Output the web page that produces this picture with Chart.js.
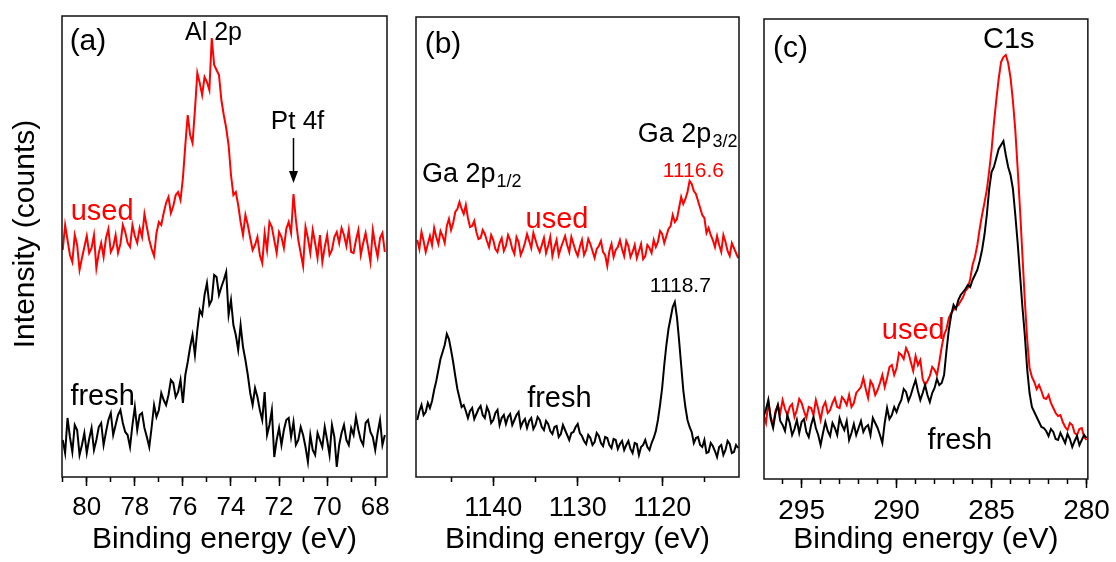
<!DOCTYPE html>
<html>
<head>
<meta charset="utf-8">
<script src="https://cdn.jsdelivr.net/npm/chart.js@4.4.1/dist/chart.umd.min.js"></script>
<style>
  html, body { margin: 0; padding: 0; background: #fff; }
  #wrap { position: relative; width: 1116px; height: 562px; overflow: hidden; }
  canvas { position: absolute; top: 0; }
</style>
</head>
<body>
<div id="wrap">
  <canvas id="chartA" width="407" height="562" style="left:0px;width:407px;height:562px"></canvas>
  <canvas id="chartB" width="359" height="562" style="left:400px;width:359px;height:562px"></canvas>
  <canvas id="chartC" width="366" height="562" style="left:750px;width:366px;height:562px"></canvas>
</div>
<script>
// (a) Al 2p region
const energyA = [81.0, 80.9, 80.8, 80.7, 80.6, 80.5, 80.4, 80.3, 80.2, 80.1,
  80.0, 79.9, 79.8, 79.7, 79.6, 79.5, 79.4, 79.3, 79.2, 79.1,
  79.0, 78.9, 78.8, 78.7, 78.6, 78.5, 78.4, 78.3, 78.2, 78.1,
  78.0, 77.9, 77.8, 77.7, 77.6, 77.5, 77.4, 77.3, 77.2, 77.1,
  77.0, 76.9, 76.8, 76.7, 76.6, 76.5, 76.4, 76.3, 76.2, 76.1,
  76.0, 75.9, 75.8, 75.7, 75.6, 75.5, 75.4, 75.3, 75.2, 75.1,
  75.0, 74.9, 74.8, 74.7, 74.6, 74.5, 74.4, 74.3, 74.2, 74.1,
  74.0, 73.9, 73.8, 73.7, 73.6, 73.5, 73.4, 73.3, 73.2, 73.1,
  73.0, 72.9, 72.8, 72.7, 72.6, 72.5, 72.4, 72.3, 72.2, 72.1,
  72.0, 71.9, 71.8, 71.7, 71.6, 71.5, 71.4, 71.3, 71.2, 71.1,
  71.0, 70.9, 70.8, 70.7, 70.6, 70.5, 70.4, 70.3, 70.2, 70.1,
  70.0, 69.9, 69.8, 69.7, 69.6, 69.5, 69.4, 69.3, 69.2, 69.1,
  69.0, 68.9, 68.8, 68.7, 68.6, 68.5, 68.4, 68.3, 68.2, 68.1,
  68.0, 67.9, 67.8, 67.7, 67.6];
const usedA = [225, 250, 235, 220, 213, 240, 230, 205, 217, 228,
  239, 222, 227, 240, 207, 222, 232, 218, 237, 246,
  223, 228, 240, 222, 231, 250, 243, 232, 228, 250,
  239, 232, 247, 238, 261, 248, 235, 226, 219, 242,
  253, 250, 262, 272, 278, 262, 269, 280, 283, 275,
  297, 330, 360, 340, 332, 365, 402, 392, 380, 398,
  393, 385, 437, 410, 405, 400, 375, 360, 347, 330,
  300, 280, 283, 270, 253, 240, 260, 250, 237, 225,
  230, 238, 220, 212, 242, 225, 253, 248, 235, 222,
  243, 238, 227, 246, 253, 242, 281, 255, 235, 222,
  209, 248, 237, 222, 245, 232, 217, 240, 213, 228,
  240, 220, 225, 238, 243, 232, 247, 240, 229, 245,
  223, 222, 235, 245, 220, 232, 242, 228, 213, 245,
  230, 218, 237, 242, 223];
const freshA = [35, 22, 57, 38, 23, 50, 45, 20, 30, 42,
  22, 36, 47, 25, 35, 48, 52, 30, 43, 55,
  62, 40, 50, 60, 65, 52, 43, 40, 28, 50,
  68, 45, 60, 62, 47, 38, 28, 48, 70, 58,
  65, 82, 75, 70, 80, 95, 92, 78, 83, 95,
  72, 100, 113, 128, 140, 120, 145, 165, 160, 180,
  192, 170, 175, 200, 198, 180, 188, 195, 203, 160,
  175, 150, 140, 125, 150, 128, 115, 100, 82, 70,
  87, 78, 65, 55, 83, 40, 50, 65, 18, 35,
  47, 30, 45, 55, 57, 38, 53, 30, 35, 48,
  40, 28, 13, 40, 25, 20, 42, 35, 28, 48,
  35, 20, 50, 38, 8, 30, 42, 50, 35, 30,
  47, 40, 58, 45, 35, 30, 52, 55, 43, 38,
  25, 42, 55, 30, 40];

// (b) Ga 2p region
const energyB = [1149, 1148.75, 1148.5, 1148.25, 1148, 1147.75, 1147.5, 1147.25, 1147, 1146.75,
  1146.5, 1146.25, 1146, 1145.75, 1145.5, 1145.25, 1145, 1144.75, 1144.5, 1144.25,
  1144, 1143.75, 1143.5, 1143.25, 1143, 1142.75, 1142.5, 1142.25, 1142, 1141.75,
  1141.5, 1141.25, 1141, 1140.75, 1140.5, 1140.25, 1140, 1139.75, 1139.5, 1139.25,
  1139, 1138.75, 1138.5, 1138.25, 1138, 1137.75, 1137.5, 1137.25, 1137, 1136.75,
  1136.5, 1136.25, 1136, 1135.75, 1135.5, 1135.25, 1135, 1134.75, 1134.5, 1134.25,
  1134, 1133.75, 1133.5, 1133.25, 1133, 1132.75, 1132.5, 1132.25, 1132, 1131.75,
  1131.5, 1131.25, 1131, 1130.75, 1130.5, 1130.25, 1130, 1129.75, 1129.5, 1129.25,
  1129, 1128.75, 1128.5, 1128.25, 1128, 1127.75, 1127.5, 1127.25, 1127, 1126.75,
  1126.5, 1126.25, 1126, 1125.75, 1125.5, 1125.25, 1125, 1124.75, 1124.5, 1124.25,
  1124, 1123.75, 1123.5, 1123.25, 1123, 1122.75, 1122.5, 1122.25, 1122, 1121.75,
  1121.5, 1121.25, 1121, 1120.75, 1120.5, 1120.25, 1120, 1119.75, 1119.5, 1119.25,
  1119, 1118.75, 1118.5, 1118.25, 1118, 1117.75, 1117.5, 1117.25, 1117, 1116.75,
  1116.5, 1116.25, 1116, 1115.75, 1115.5, 1115.25, 1115, 1114.75, 1114.5, 1114.25,
  1114, 1113.75, 1113.5, 1113.25, 1113, 1112.75, 1112.5, 1112.25, 1112, 1111.75,
  1111.5, 1111.25, 1111];
const usedB = [237, 228, 245, 236, 225, 233, 241, 232, 249, 240,
  233, 246, 241, 234, 251, 258, 247, 254, 265, 268,
  275, 268, 263, 272, 259, 250, 251, 256, 245, 238,
  239, 247, 243, 236, 230, 242, 237, 228, 225, 234,
  239, 226, 231, 242, 237, 228, 223, 240, 235, 222,
  227, 234, 243, 236, 229, 244, 237, 230, 225, 232,
  239, 224, 231, 240, 221, 230, 237, 222, 229, 235,
  241, 232, 225, 240, 233, 226, 221, 230, 237, 222,
  227, 238, 233, 226, 219, 228, 231, 236, 225, 222,
  211, 226, 233, 220, 227, 230, 237, 228, 221, 236,
  231, 220, 225, 232, 219, 226, 233, 218, 221, 232,
  229, 224, 237, 230, 235, 246, 243, 234, 241, 248,
  251, 262, 255, 258, 269, 280, 273, 278, 285, 296,
  293, 286, 283, 276, 269, 262, 259, 244, 249, 242,
  237, 230, 241, 232, 225, 242, 235, 226, 221, 234,
  229, 224, 219];
const freshB = [57, 66, 72, 62, 65, 74, 69, 76, 87, 96,
  107, 118, 125, 132, 143, 138, 127, 115, 101, 88,
  79, 70, 72, 66, 59, 66, 69, 58, 63, 68,
  71, 62, 59, 70, 65, 54, 57, 64, 67, 52,
  59, 62, 53, 60, 63, 52, 57, 62, 65, 50,
  55, 58, 49, 56, 59, 48, 52, 60, 57, 50,
  47, 56, 53, 46, 43, 50, 51, 40, 43, 52,
  47, 42, 37, 44, 45, 50, 53, 44, 41, 36,
  33, 42, 39, 32, 35, 44, 41, 34, 31, 40,
  39, 32, 29, 38, 37, 28, 33, 36, 27, 32,
  36, 28, 24, 34, 33, 22, 30, 32, 37, 30,
  27, 34, 39, 46, 57, 72, 89, 112, 132, 148,
  159, 170, 175, 160, 137, 112, 87, 70, 57, 50,
  45, 34, 39, 40, 32, 30, 37, 24, 25, 34,
  31, 26, 20, 30, 32, 22, 27, 36, 33, 24,
  25, 32, 29];

// (c) C 1s region
const energyC = [297, 296.875, 296.75, 296.625, 296.5, 296.375, 296.25, 296.125,
  296, 295.875, 295.75, 295.625, 295.5, 295.375, 295.25, 295.125,
  295, 294.875, 294.75, 294.625, 294.5, 294.375, 294.25, 294.125,
  294, 293.875, 293.75, 293.625, 293.5, 293.375, 293.25, 293.125,
  293, 292.875, 292.75, 292.625, 292.5, 292.375, 292.25, 292.125,
  292, 291.875, 291.75, 291.625, 291.5, 291.375, 291.25, 291.125,
  291, 290.875, 290.75, 290.625, 290.5, 290.375, 290.25, 290.125,
  290, 289.875, 289.75, 289.625, 289.5, 289.375, 289.25, 289.125,
  289, 288.875, 288.75, 288.625, 288.5, 288.375, 288.25, 288.125,
  288, 287.875, 287.75, 287.625, 287.5, 287.375, 287.25, 287.125,
  287, 286.875, 286.75, 286.625, 286.5, 286.375, 286.25, 286.125,
  286, 285.875, 285.75, 285.625, 285.5, 285.375, 285.25, 285.125,
  285, 284.875, 284.75, 284.625, 284.5, 284.375, 284.25, 284.125,
  284, 283.875, 283.75, 283.625, 283.5, 283.375, 283.25, 283.125,
  283, 282.875, 282.75, 282.625, 282.5, 282.375, 282.25, 282.125,
  282, 281.875, 281.75, 281.625, 281.5, 281.375, 281.25, 281.125,
  281, 280.875, 280.75, 280.625, 280.5, 280.375, 280.25, 280.125,
  280];
const usedC = [64, 56, 77, 62, 54, 68, 74, 66, 79, 70,
  64, 72, 75, 62, 69, 80, 76, 68, 61, 72,
  71, 64, 79, 70, 59, 72, 77, 66, 69, 76,
  81, 72, 71, 82, 79, 74, 84, 72, 76, 86,
  89, 92, 101, 90, 81, 98, 94, 84, 89, 96,
  104, 92, 101, 112, 114, 104, 111, 126, 124, 120,
  131, 126, 117, 108, 123, 114, 119, 100, 94, 98,
  103, 112, 109, 104, 117, 132, 144, 150, 161, 166,
  169, 172, 174, 178, 182, 188, 191, 200, 214, 222,
  234, 250, 264, 276, 289, 308, 329, 356, 379, 400,
  417, 422, 424, 416, 401, 378, 349, 310, 269, 224,
  179, 140, 111, 102, 97, 90, 94, 88, 81, 80,
  84, 76, 71, 66, 63, 64, 57, 52, 49, 56,
  54, 46, 44, 50, 51, 42, 39];
const freshC = [62, 70, 79, 60, 51, 66, 74, 58, 54, 48,
  64, 56, 44, 50, 59, 46, 57, 60, 47, 42,
  54, 62, 51, 44, 34, 46, 57, 48, 43, 56,
  51, 44, 61, 54, 49, 58, 39, 46, 55, 44,
  51, 58, 47, 52, 54, 44, 61, 56, 51, 44,
  36, 56, 71, 60, 64, 72, 67, 74, 79, 90,
  87, 78, 84, 92, 99, 88, 79, 86, 94, 84,
  77, 86, 91, 100, 94, 96, 104, 128, 149, 164,
  174, 170, 179, 184, 187, 190, 194, 192, 199, 204,
  209, 218, 229, 244, 264, 290, 307, 312, 321, 330,
  334, 338, 324, 312, 304, 290, 264, 236, 204, 172,
  144, 110, 86, 72, 67, 62, 57, 52, 51, 48,
  43, 50, 47, 40, 39, 46, 41, 36, 45, 40,
  32, 38, 43, 34, 39, 44, 41];

const FONT = "'Liberation Sans', Arial, sans-serif";
const RED = '#ff0000';
Chart.defaults.font.family = FONT;
Chart.defaults.color = '#000';

function pairs(xs, ys) {
  return xs.map((x, i) => ({ x: x, y: ys[i] }));
}

// box around the plot area
const framePlugin = {
  id: 'frame',
  afterDatasetsDraw(chart) {
    const a = chart.chartArea, ctx = chart.ctx;
    ctx.save();
    ctx.strokeStyle = '#111';
    ctx.lineWidth = 1.5;
    ctx.strokeRect(a.left, a.top, a.right - a.left, a.bottom - a.top);
    ctx.restore();
  }
};

// text labels and the arrow, placed in data coordinates
const notesPlugin = {
  id: 'notes',
  afterDraw(chart, args, opts) {
    const ctx = chart.ctx, xs = chart.scales.x, ys = chart.scales.y;
    (opts.items || []).forEach(n => {
      const px = xs.getPixelForValue(n.x), py = ys.getPixelForValue(n.y);
      ctx.save();
      ctx.fillStyle = n.color || '#000';
      ctx.strokeStyle = n.color || '#000';
      if (n.arrow) {
        const py2 = ys.getPixelForValue(n.y2);
        ctx.lineWidth = 1.5;
        ctx.beginPath();
        ctx.moveTo(px, py);
        ctx.lineTo(px, py2 - 8);
        ctx.stroke();
        ctx.beginPath();
        ctx.moveTo(px, py2);
        ctx.lineTo(px - 4.5, py2 - 12);
        ctx.lineTo(px + 4.5, py2 - 12);
        ctx.closePath();
        ctx.fill();
      } else {
        ctx.font = n.size + 'px ' + FONT;
        ctx.textBaseline = 'alphabetic';
        ctx.textAlign = n.align || 'center';
        ctx.fillText(n.text, px, py);
        if (n.sub) {
          const w = ctx.measureText(n.text).width;
          ctx.font = n.subSize + 'px ' + FONT;
          ctx.textAlign = 'left';
          ctx.fillText(n.sub, px + w + 1, py + 5);
        }
      }
      ctx.restore();
    });
  }
};

function makePanel(id, o) {
  return new Chart(document.getElementById(id), {
    type: 'line',
    data: {
      datasets: [
        { label: 'fresh', data: pairs(o.energy, o.fresh), xAxisID: 'x', borderColor: '#000', borderWidth: 2, pointRadius: 0, tension: 0 },
        { label: 'used', data: pairs(o.energy, o.used), xAxisID: 'x', borderColor: RED, borderWidth: 2, pointRadius: 0, tension: 0 }
      ]
    },
    options: {
      responsive: false,
      animation: false,
      devicePixelRatio: 1,
      layout: { padding: o.pad },
      plugins: {
        legend: { display: false },
        tooltip: { enabled: false },
        notes: { items: o.notes }
      },
      scales: {
        // minor ticks only
        xm: {
          type: 'linear', position: 'bottom', weight: 0,
          min: o.xmin, max: o.xmax, reverse: true,
          ticks: { display: false, stepSize: o.minor, includeBounds: false },
          grid: { drawOnChartArea: false, tickLength: 5, color: '#000', tickWidth: 1.5 },
          border: { display: false },
          afterFit: s => { s.height = 0; }
        },
        x: {
          type: 'linear', position: 'bottom', weight: 1,
          min: o.xmin, max: o.xmax, reverse: true,
          ticks: {
            stepSize: o.major, includeBounds: false, autoSkip: false, maxRotation: 0,
            font: { size: o.tickSize }, padding: 6, color: '#000',
            callback: v => String(v)
          },
          grid: { drawOnChartArea: false, tickLength: 9, color: '#000', tickWidth: 1.5 },
          border: { display: false },
          title: { display: true, text: 'Binding energy (eV)', color: '#000', font: { size: 30 }, padding: { top: 0, bottom: 4 } },
          afterFit: s => { s.height = o.axisH; }
        },
        y: {
          display: !!o.yTitle,
          min: o.ymin, max: o.ymax,
          ticks: { display: false },
          grid: { display: false },
          border: { display: false },
          title: { display: !!o.yTitle, text: o.yTitle, color: '#000', font: { size: 30 }, padding: { top: 8, bottom: 0 } },
          afterFit: s => { if (o.yTitle) s.width = 62; }
        }
      }
    },
    plugins: [framePlugin, notesPlugin]
  });
}

makePanel('chartA', {
  energy: energyA, used: usedA, fresh: freshA,
  xmin: 67.51, xmax: 81.03, major: 2, minor: 1, tickSize: 26,
  ymin: -2, ymax: 459, axisH: 85,
  pad: { left: 0, top: 16, right: 20, bottom: 0 },
  yTitle: '   Intensity (counts)',
  notes: [
    { text: '(a)', x: 79.95, y: 425, size: 30 },
    { text: 'Al 2p', x: 74.73, y: 435, size: 25 },
    { text: 'Pt 4f', x: 71.23, y: 346, size: 26 },
    { arrow: true, x: 71.4, y: 337, y2: 292 },
    { text: 'used', x: 79.36, y: 255, size: 29, color: RED },
    { text: 'fresh', x: 79.34, y: 70, size: 29 }
  ]
});

makePanel('chartB', {
  energy: energyB, used: usedB, fresh: freshB,
  xmin: 1110.9, xmax: 1149.15, major: 10, minor: 5, tickSize: 27,
  ymin: 0, ymax: 460, axisH: 85,
  pad: { left: 16, top: 17, right: 20, bottom: 0 },
  notes: [
    { text: '(b)', x: 1145.95, y: 424, size: 30 },
    { text: 'Ga 2p', sub: '3/2', x: 1122.88, y: 335, size: 27, subSize: 18, align: 'left' },
    { text: '1116.6', x: 1116.3, y: 300, size: 21, color: RED },
    { text: 'Ga 2p', sub: '1/2', x: 1148.44, y: 295, size: 27, subSize: 18, align: 'left' },
    { text: 'used', x: 1132.45, y: 249, size: 29, color: RED },
    { text: '1118.7', x: 1117.85, y: 185, size: 21 },
    { text: 'fresh', x: 1132.17, y: 70, size: 29 }
  ]
});

makePanel('chartC', {
  energy: energyC, used: usedC, fresh: freshC,
  xmin: 279.93, xmax: 296.98, major: 5, minor: 1, tickSize: 28,
  ymin: 0, ymax: 460, axisH: 83,
  pad: { left: 14, top: 19, right: 28, bottom: 0 },
  notes: [
    { text: '(c)', x: 295.59, y: 422, size: 30 },
    { text: 'C1s', x: 284.09, y: 431, size: 29 },
    { text: 'used', x: 289.12, y: 140, size: 29, color: RED },
    { text: 'fresh', x: 286.67, y: 30, size: 29 }
  ]
});
</script>
</body>
</html>
